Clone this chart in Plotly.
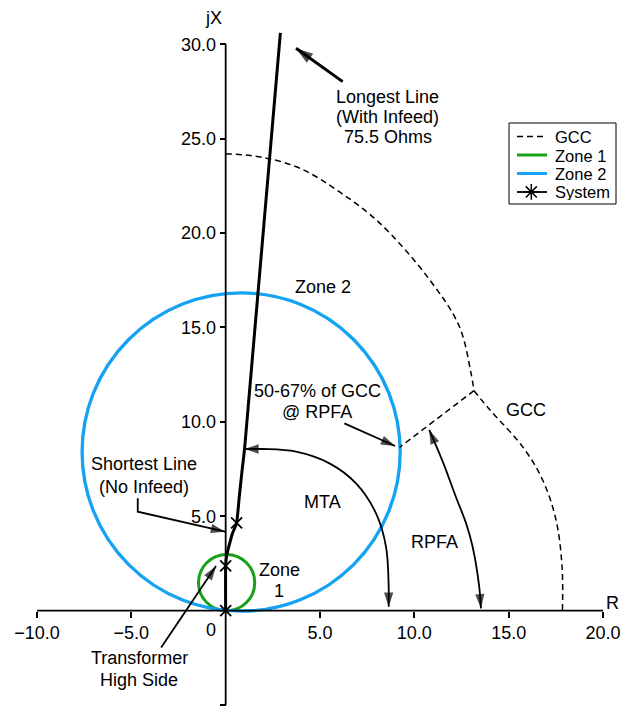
import plotly.graph_objects as go

# ---------------- data ----------------
x_range = [-10, 20]
y_range = [-5, 30.7]
x_tickvals = [-10, -5, 5, 10, 15, 20]
x_ticktext = ["−10.0", "−5.0", "5.0", "10.0", "15.0", "20.0"]
y_tickvals = [-5, 5, 10, 15, 20, 25, 30]
y_ticktext = ["−5.0", "5.0", "10.0", "15.0", "20.0", "25.0", "30.0"]

# system impedance path (R, X)
path_r = [0, 0, 0.05, 0.18, 0.35, 0.58, 0.71, 0.85, 1.01, 2.9]
path_x = [0, 2.37, 2.91, 3.44, 4.06, 4.65, 5.92, 7.24, 8.66, 30.6]
# system points (asterisks)
sys_r = [0, 0, 0.58]
sys_x = [0, 2.37, 4.65]

# mho zones
zone_names = ["Zone 1", "Zone 2"]
zone_cr = [0.05, 0.82]
zone_cx = [1.48, 8.40]
zone_rad = [1.49, 8.43]

# GCC curve
gcc_up_r = [0, 2.0, 4.0, 6.0, 8.14, 10.79, 12.38, 13.0, 13.16]
gcc_up_x = [24.2, 24.0, 23.4, 22.2, 20.55, 17.55, 15.06, 12.6, 11.65]
gcc_lo_r = [13.16, 13.99, 15.74, 16.8, 17.51, 17.83, 17.85]
gcc_lo_x = [11.65, 10.65, 8.68, 6.92, 4.8, 2.32, 0.0]
# 50-67% of GCC @ RPFA segment
rpfa_seg_r = [13.16, 9.22]
rpfa_seg_x = [11.65, 8.65]

# angle arcs
mta_r = [0.99, 1.96, 3.73, 5.5, 6.91, 7.97, 8.5, 8.64, 8.64]
mta_x = [8.56, 8.56, 8.42, 7.8, 6.74, 5.15, 3.38, 1.26, 0.2]
rpfa_r = [10.79, 11.5, 12.2, 12.75, 13.09, 13.44, 13.53]
rpfa_x = [9.57, 7.9, 6.03, 4.6, 3.38, 1.26, 0.12]

# callout arrows (tail ... tip)
long_arrow_r = [6.2, 3.73]
long_arrow_x = [28.02, 29.79]
gcc_arrow_r = [6.29, 8.98]
gcc_arrow_x = [9.92, 8.72]
short_arrow_r = [-4.66, -4.66, -0.03]
short_arrow_x = [5.95, 5.24, 4.18]
xfmr_arrow_r = [-3.42, -0.51]
xfmr_arrow_x = [-1.95, 2.36]

# text labels (text, R, X)
labels = [
    ("Longest Line", 8.58, 27.23),
    ("(With Infeed)", 8.58, 26.17),
    ("75.5 Ohms", 8.58, 25.11),
    ("Zone 2", 5.14, 17.16),
    ("50-67% of GCC", 4.85, 11.63),
    ("@ RPFA", 4.85, 10.5),
    ("GCC", 15.92, 10.63),
    ("MTA", 5.14, 5.77),
    ("RPFA", 11.06, 3.61),
    ("Shortest Line", -4.31, 7.76),
    ("(No Infeed)", -4.31, 6.56),
    ("Zone", 2.85, 2.15),
    ("1", 2.85, 1.05),
    ("Transformer", -4.57, -2.53),
    ("High Side", -4.57, -3.68),
    ("0", -0.77, -1.03),
]
# axis titles (text, R, X) placed just beyond the axis ends
axis_titles = [("R", 20.51, 0.38), ("jX", -0.65, 31.4)]

legend_names = ["GCC", "Zone 1", "Zone 2", "System"]

# ---------------- styles ----------------
FONT = "Liberation Sans, Arial, sans-serif"
FS = 18
LEG_FS = 16.5
GREEN = "#18A018"
BLUE = "#15A2F2"
BLACK = "#000000"

fig = go.Figure()

# axes lines
fig.add_trace(go.Scatter(x=x_range, y=[0, 0], mode="lines",
                         line=dict(color=BLACK, width=1.8), hoverinfo="skip", showlegend=False))
fig.add_trace(go.Scatter(x=[0, 0], y=[y_range[0], 30], mode="lines",
                         line=dict(color=BLACK, width=1.8), hoverinfo="skip", showlegend=False))

# zones as circle shapes
for name, cr, cx, rad, col, w in zip(zone_names, zone_cr, zone_cx, zone_rad, [GREEN, BLUE], [3, 3.3]):
    fig.add_shape(type="circle", xref="x", yref="y",
                  x0=cr - rad, x1=cr + rad, y0=cx - rad, y1=cx + rad,
                  line=dict(color=col, width=w), layer="below", name=name)

# GCC
dash = "6px,4px"
for rr, xx, shp in [(gcc_up_r, gcc_up_x, "spline"), (gcc_lo_r, gcc_lo_x, "spline"),
                    (rpfa_seg_r, rpfa_seg_x, "linear")]:
    fig.add_trace(go.Scatter(x=rr, y=xx, mode="lines", line=dict(color=BLACK, width=1.5, dash=dash, shape=shp),
                             hoverinfo="skip", showlegend=False))

# system path
fig.add_trace(go.Scatter(x=path_r, y=path_x, mode="lines", line=dict(color=BLACK, width=3, shape="spline", smoothing=0.5),
                         hoverinfo="skip", showlegend=False))
fig.add_trace(go.Scatter(x=sys_r, y=sys_x, mode="markers",
                         marker=dict(symbol="x-thin-open", size=11, color=BLACK, line=dict(color=BLACK, width=1.8)),
                         hoverinfo="skip", showlegend=False, cliponaxis=False))


def add_arrow_line(rr, xx, width=2, heads=("end",), size=15, shape="linear"):
    fig.add_trace(go.Scatter(x=rr, y=xx, mode="lines", line=dict(color=BLACK, width=width, shape=shape),
                             hoverinfo="skip", showlegend=False))
    for h in heads:
        if h == "end":
            hx, hy = rr[-2:], xx[-2:]
        else:
            hx, hy = [rr[1], rr[0]], [xx[1], xx[0]]
        fig.add_trace(go.Scatter(x=hx, y=hy, mode="markers",
                                 marker=dict(symbol="arrow", size=[0, size], angleref="previous",
                                             color=BLACK, line=dict(width=0)),
                                 hoverinfo="skip", showlegend=False, cliponaxis=False))


add_arrow_line(mta_r, mta_x, width=1.8, heads=("start", "end"), shape="spline")
add_arrow_line(rpfa_r, rpfa_x, width=1.8, heads=("start", "end"), shape="spline")
add_arrow_line(long_arrow_r, long_arrow_x, width=3, size=18)
add_arrow_line(gcc_arrow_r, gcc_arrow_x, width=1.8)
add_arrow_line(short_arrow_r, short_arrow_x, width=1.8)
add_arrow_line(xfmr_arrow_r, xfmr_arrow_x, width=1.8)

# text
for t, xr, yx in labels:
    fig.add_annotation(x=xr, y=yx, xref="x", yref="y", text=t, showarrow=False,
                       xanchor="center", yanchor="middle", font=dict(family=FONT, size=FS, color=BLACK))

# ---------------- manual legend ----------------
# page offset of 8px (browser body margin) is compensated in figure size / margins
OFF = 8
L, T = 37, 31
PW, PH = 566, 674


def px(p):
    return (p - L) / PW


def py(p):
    return (T + PH - p) / PH


# axis titles outside the data range -> paper coordinates derived from the axis scale
SX = PW / (x_range[1] - x_range[0])
SY = PH / (y_range[1] - y_range[0])
for t, xr, yx in axis_titles:
    fig.add_annotation(x=(xr - x_range[0]) * SX / PW, y=(yx - y_range[0]) * SY / PH,
                       xref="paper", yref="paper", text=t, showarrow=False,
                       xanchor="center", yanchor="middle", font=dict(family=FONT, size=FS, color=BLACK))

fig.add_shape(type="rect", xref="paper", yref="paper", x0=px(509), x1=px(616), y0=py(204), y1=py(123),
              line=dict(color=BLACK, width=1), fillcolor="rgba(0,0,0,0)", layer="above")
rows = [136.5, 155.0, 173.5, 192.0]
styles = [dict(color=BLACK, width=1.5, dash="6px,4px"), dict(color=GREEN, width=3),
          dict(color=BLUE, width=3), dict(color=BLACK, width=1.8)]
for name, ry, st in zip(legend_names, rows, styles):
    fig.add_shape(type="line", xref="paper", yref="paper", x0=px(517), x1=px(547), y0=py(ry), y1=py(ry),
                  line=st, layer="above")
    fig.add_annotation(x=px(553), y=py(ry), xref="paper", yref="paper", text=name, showarrow=False,
                       xanchor="left", yanchor="middle", height=17, valign="middle",
                       font=dict(family=FONT, size=LEG_FS, color=BLACK))
# legend asterisk for System
fig.add_trace(go.Scatter(x=[(532 - 226.3) / 18.87], y=[(610.5 - rows[3]) / 18.87], mode="markers",
                         marker=dict(symbol="asterisk-open", size=13, color=BLACK, line=dict(color=BLACK, width=1.5)),
                         hoverinfo="skip", showlegend=False, cliponaxis=False))

axis_common = dict(showgrid=False, zeroline=False, showline=False, ticks="outside", ticklen=6,
                   tickwidth=1.5, tickcolor=BLACK, tickmode="array",
                   tickfont=dict(family=FONT, size=FS, color=BLACK), anchor="free")

fig.update_layout(
    width=629 - OFF, height=711 - OFF,
    margin=dict(l=L - OFF, r=26, t=T - OFF, b=6),
    paper_bgcolor="white", plot_bgcolor="white",
    showlegend=False,
    xaxis=dict(range=x_range, tickvals=x_tickvals, ticktext=x_ticktext,
               position=(0 - y_range[0]) / (y_range[1] - y_range[0]), **axis_common),
    yaxis=dict(range=y_range, tickvals=y_tickvals, ticktext=y_ticktext,
               position=(0 - x_range[0]) / (x_range[1] - x_range[0]), **axis_common),
)

fig.write_html("out.html")
